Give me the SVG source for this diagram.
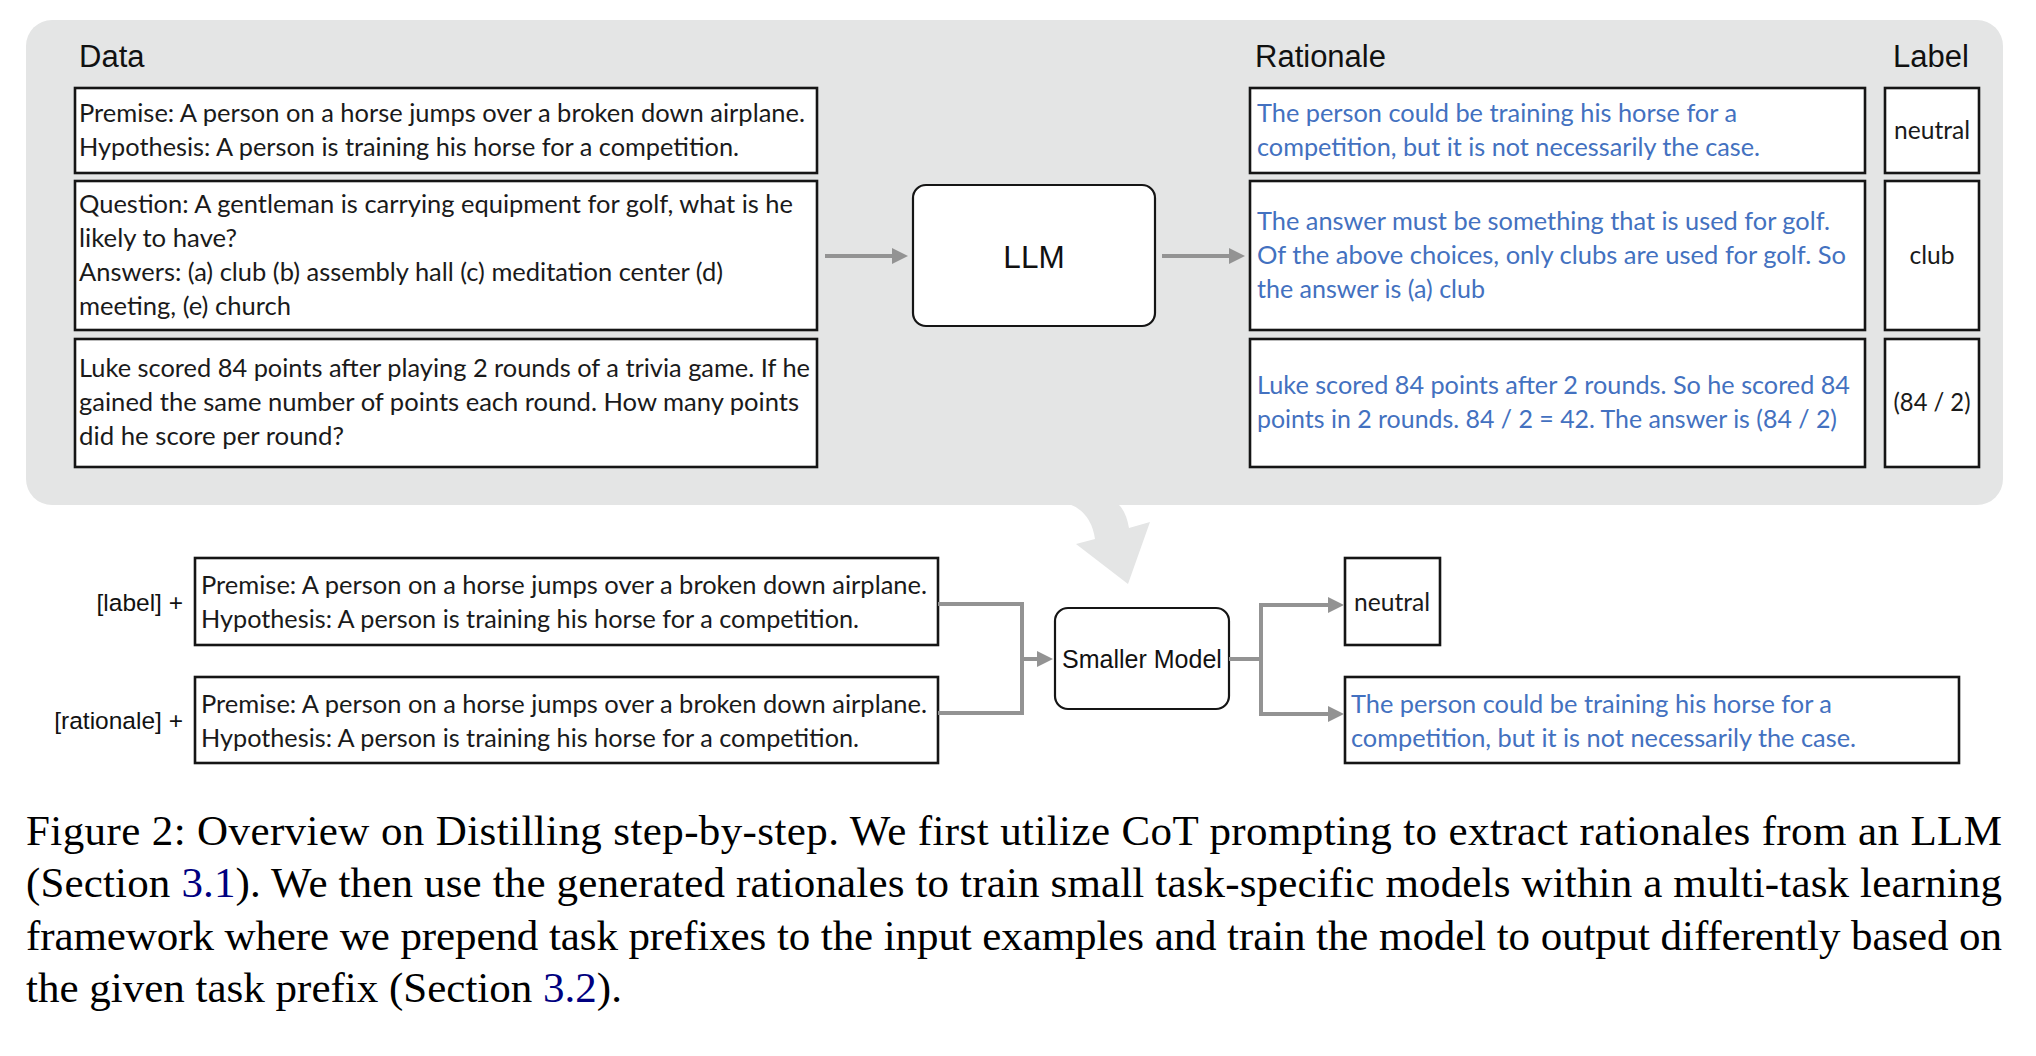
<svg xmlns="http://www.w3.org/2000/svg" width="2036" height="1056" viewBox="0 0 2036 1056">
<style>
.box{fill:#fff;stroke:#151515;stroke-width:2.6}
.rbox{fill:#fff;stroke:#151515;stroke-width:2.2}
.hdr{font-family:"Liberation Sans",Arial,sans-serif;font-size:31px;fill:#111}
.sans{font-family:"Liberation Sans",Arial,sans-serif;fill:#111}
.t{font-family:Lato,"Noto Sans",sans-serif;font-size:25px;fill:#1a1a1a}
.b{font-family:Lato,"Noto Sans",sans-serif;font-size:25px;fill:#4371c0}
.cap{font-family:"Liberation Serif","Times New Roman",serif;font-size:43px;fill:#000}
.lnk{fill:#000080}
.con{fill:none;stroke:#939393;stroke-width:4}
</style>
<defs>
<marker id="ah" markerUnits="userSpaceOnUse" markerWidth="16" markerHeight="16" viewBox="0 0 16 16" refX="4" refY="8" orient="auto">
<path d="M0,0 L16,8 L0,16 z" fill="#939393"/>
</marker>
</defs>

<g id="panel">
<rect x="26" y="20" width="1977" height="485" rx="26" fill="#e4e5e5"/>
<path d="M1069,500 L1069,504 Q1091,512 1095,539 L1076,544 L1128,584 L1150,522 L1129,528 Q1126,511 1118,504 L1118,500 Z" fill="#e4e5e5"/>
</g>

<g id="headers">
<text class="hdr" x="79" y="67">Data</text>
<text class="hdr" x="1255" y="67">Rationale</text>
<text class="hdr" x="1893" y="67">Label</text>
</g>

<g id="data1">
<rect class="box" x="75" y="88" width="742" height="85"/>
<text class="t" x="79" y="122" textLength="726" lengthAdjust="spacingAndGlyphs">Premise: A person on a horse jumps over a broken down airplane.</text>
<text class="t" x="79" y="156" textLength="660" lengthAdjust="spacingAndGlyphs">Hypothesis: A person is training his horse for a competition.</text>
</g>
<g id="data2">
<rect class="box" x="75" y="181" width="742" height="149"/>
<text class="t" x="79" y="213" textLength="714" lengthAdjust="spacingAndGlyphs">Question: A gentleman is carrying equipment for golf, what is he</text>
<text class="t" x="79" y="247" textLength="158" lengthAdjust="spacingAndGlyphs">likely to have?</text>
<text class="t" x="79" y="281" textLength="644" lengthAdjust="spacingAndGlyphs">Answers: (a) club (b) assembly hall (c) meditation center (d)</text>
<text class="t" x="79" y="315" textLength="212" lengthAdjust="spacingAndGlyphs">meeting, (e) church</text>
</g>
<g id="data3">
<rect class="box" x="75" y="339" width="742" height="128"/>
<text class="t" x="79" y="377" textLength="731" lengthAdjust="spacingAndGlyphs">Luke scored 84 points after playing 2 rounds of a trivia game. If he</text>
<text class="t" x="79" y="411" textLength="720" lengthAdjust="spacingAndGlyphs">gained the same number of points each round. How many points</text>
<text class="t" x="79" y="445" textLength="265" lengthAdjust="spacingAndGlyphs">did he score per round?</text>
</g>

<g id="llm">
<rect class="rbox" x="913" y="185" width="242" height="141" rx="13"/>
<text class="sans" x="1034" y="268" font-size="31.5" text-anchor="middle">LLM</text>
</g>

<g id="rat1">
<rect class="box" x="1250" y="88" width="615" height="85"/>
<text class="b" x="1257" y="122" textLength="480" lengthAdjust="spacingAndGlyphs">The person could be training his horse for a</text>
<text class="b" x="1257" y="156" textLength="503" lengthAdjust="spacingAndGlyphs">competition, but it is not necessarily the case.</text>
</g>
<g id="rat2">
<rect class="box" x="1250" y="181" width="615" height="149"/>
<text class="b" x="1257" y="230" textLength="573" lengthAdjust="spacingAndGlyphs">The answer must be something that is used for golf.</text>
<text class="b" x="1257" y="264" textLength="589" lengthAdjust="spacingAndGlyphs">Of the above choices, only clubs are used for golf. So</text>
<text class="b" x="1257" y="298" textLength="228" lengthAdjust="spacingAndGlyphs">the answer is (a) club</text>
</g>
<g id="rat3">
<rect class="box" x="1250" y="339" width="615" height="128"/>
<text class="b" x="1257" y="394" textLength="593" lengthAdjust="spacingAndGlyphs">Luke scored 84 points after 2 rounds. So he scored 84</text>
<text class="b" x="1257" y="428" textLength="580" lengthAdjust="spacingAndGlyphs">points in 2 rounds. 84 / 2 = 42. The answer is (84 / 2)</text>
</g>

<g id="lab1">
<rect class="box" x="1885" y="88" width="94" height="85"/>
<text class="t" x="1932" y="139" text-anchor="middle" textLength="76" lengthAdjust="spacingAndGlyphs">neutral</text>
</g>
<g id="lab2">
<rect class="box" x="1885" y="181" width="94" height="149"/>
<text class="t" x="1932" y="264" text-anchor="middle" textLength="45" lengthAdjust="spacingAndGlyphs">club</text>
</g>
<g id="lab3">
<rect class="box" x="1885" y="339" width="94" height="128"/>
<text class="t" x="1932" y="411" text-anchor="middle" textLength="77" lengthAdjust="spacingAndGlyphs">(84 / 2)</text>
</g>

<g id="prefix-label">
<text class="sans" x="183" y="611" font-size="24.5" text-anchor="end">[label] +</text>
</g>
<g id="input-label">
<rect class="box" x="195" y="558" width="743" height="87"/>
<text class="t" x="201" y="594" textLength="726" lengthAdjust="spacingAndGlyphs">Premise: A person on a horse jumps over a broken down airplane.</text>
<text class="t" x="201" y="628" textLength="658" lengthAdjust="spacingAndGlyphs">Hypothesis: A person is training his horse for a competition.</text>
</g>
<g id="prefix-rationale">
<text class="sans" x="183" y="729" font-size="24.5" text-anchor="end">[rationale] +</text>
</g>
<g id="input-rationale">
<rect class="box" x="195" y="677" width="743" height="86"/>
<text class="t" x="201" y="713" textLength="726" lengthAdjust="spacingAndGlyphs">Premise: A person on a horse jumps over a broken down airplane.</text>
<text class="t" x="201" y="747" textLength="658" lengthAdjust="spacingAndGlyphs">Hypothesis: A person is training his horse for a competition.</text>
</g>

<g id="smaller-model">
<rect class="rbox" x="1055" y="608" width="174" height="101" rx="13"/>
<text class="sans" x="1142" y="668" font-size="25" text-anchor="middle">Smaller Model</text>
</g>

<g id="out-label">
<rect class="box" x="1345" y="558" width="95" height="87"/>
<text class="t" x="1392" y="611" text-anchor="middle" textLength="76" lengthAdjust="spacingAndGlyphs">neutral</text>
</g>
<g id="out-rationale">
<rect class="box" x="1345" y="677" width="614" height="86"/>
<text class="b" x="1351" y="713" textLength="481" lengthAdjust="spacingAndGlyphs">The person could be training his horse for a</text>
<text class="b" x="1351" y="747" textLength="505" lengthAdjust="spacingAndGlyphs">competition, but it is not necessarily the case.</text>
</g>

<g id="connectors">
<path class="con" d="M825,256 H896" marker-end="url(#ah)"/>
<path class="con" d="M1162,256 H1233" marker-end="url(#ah)"/>
<path class="con" d="M938,604 H1022 V713 H938"/>
<path class="con" d="M1020,659 H1041" marker-end="url(#ah)"/>
<path class="con" d="M1229,659 H1261"/>
<path class="con" d="M1261,659 V605 H1332" marker-end="url(#ah)"/>
<path class="con" d="M1261,659 V714 H1332" marker-end="url(#ah)"/>
</g>

<g id="caption">
<text class="cap" x="26" y="845" textLength="1976" lengthAdjust="spacing">Figure 2: Overview on Distilling step-by-step. We first utilize CoT prompting to extract rationales from an LLM</text>
<text class="cap" x="26" y="897" textLength="1976" lengthAdjust="spacing">(Section <tspan class="lnk">3.1</tspan>). We then use the generated rationales to train small task-specific models within a multi-task learning</text>
<text class="cap" x="26" y="950" textLength="1976" lengthAdjust="spacing">framework where we prepend task prefixes to the input examples and train the model to output differently based on</text>
<text class="cap" x="26" y="1002">the given task prefix (Section <tspan class="lnk">3.2</tspan>).</text>
</g>
</svg>
